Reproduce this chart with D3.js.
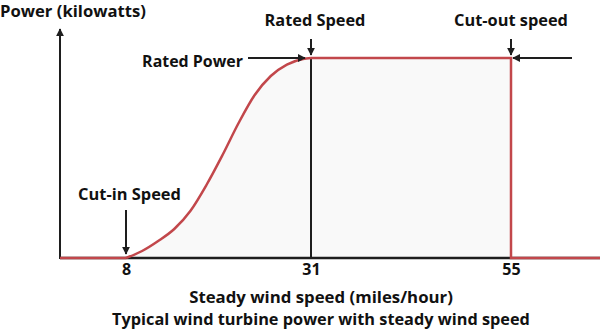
<!DOCTYPE html>
<html><head><meta charset="utf-8">
<script src="https://cdn.jsdelivr.net/npm/d3@7"></script>
<style>body{margin:0;background:#fff}svg{display:block}text{font-family:"Open Sans",sans-serif;font-weight:bold;fill:#111}</style>
</head><body><svg id="c" width="600" height="330"></svg>
<script>
// data
const tickSpeeds = [8, 31, 55];
const tickLabels = ["8", "31", "55"];
const cutIn = 8, ratedSpeed = 31, cutOut = 55, maxSpeed = 66;
const curveSpeed = [8, 10, 12, 14, 16, 18, 20, 22, 24, 26, 28, 30, 31];
const curvePower = [0, 0.035, 0.085, 0.145, 0.235, 0.365, 0.515, 0.675, 0.815, 0.91, 0.967, 0.995, 1];
const flatSpeedLeft = [0, 8];
const flatSpeedRight = [55, 66];
const ratedPower = 1;
const title = "Typical wind turbine power with steady wind speed";
const xTitle = "Steady wind speed (miles/hour)";
const yTitle = "Power (kilowatts)";

const svg = d3.select("#c");
const x = d3.scaleLinear().domain([0, 8, 31, 55, 66]).range([60, 126, 311, 511, 600]);
const y = d3.scaleLinear().domain([0, 1]).range([258, 58]);
const red = "#c2474b", dark = "#1e1e1e";

const defs = svg.append("defs");
defs.append("marker").attr("id","ah").attr("viewBox","0 0 10 10").attr("refX",9).attr("refY",5)
  .attr("markerWidth",8).attr("markerHeight",8).attr("orient","auto-start-reverse").attr("markerUnits","userSpaceOnUse")
  .append("path").attr("d","M0,0L10,5L0,10z").attr("fill",dark);

const curvePts = curveSpeed.map((s,i)=>[s, curvePower[i]]);

// fill
const area = d3.area().x(d=>x(d[0])).y0(y(0)).y1(d=>y(d[1])).curve(d3.curveMonotoneX);
svg.append("path").attr("d", area(curvePts.concat([[cutOut, ratedPower]]))).attr("fill","#f9f9f9");

// x axis
const xAxis = d3.axisBottom(x).tickValues(tickSpeeds).tickFormat((d,i)=>tickLabels[i]).tickSize(0).tickPadding(5);
const gx = svg.append("g").attr("transform",`translate(0,${y(0)})`).call(xAxis);
gx.select(".domain").attr("stroke",dark).attr("stroke-width",2.5).attr("d",`M${x(0)},0H${x(maxSpeed)}`);
gx.selectAll(".tick text").attr("font-size",16).attr("dy","0.75em")
  .style("font-family","'Open Sans'").style("font-weight","bold").attr("fill","#111");

// y axis
svg.append("line").attr("x1",x(0)).attr("x2",x(0)).attr("y1",y(0)+1).attr("y2",29)
  .attr("stroke",dark).attr("stroke-width",2).attr("marker-end","url(#ah)");

// rated speed vertical line
svg.append("line").attr("x1",x(ratedSpeed)).attr("x2",x(ratedSpeed)).attr("y1",y(ratedPower)).attr("y2",y(0))
  .attr("stroke",dark).attr("stroke-width",2);

// red power curve
const line = d3.line().x(d=>x(d[0])).y(d=>y(d[1]));
const redG = svg.append("g").attr("fill","none").attr("stroke",red).attr("stroke-width",2.5);
redG.append("path").attr("d", line(flatSpeedLeft.map(s=>[s,0])));
redG.append("path").attr("d", d3.line().x(d=>x(d[0])).y(d=>y(d[1])).curve(d3.curveMonotoneX)(curvePts));
redG.append("path").attr("d", line([[ratedSpeed,ratedPower],[cutOut,ratedPower],[cutOut,0],[flatSpeedRight[1],0]]));

// annotation arrows
function arrow(x1,y1,x2,y2){
  svg.append("line").attr("x1",x1).attr("y1",y1).attr("x2",x2).attr("y2",y2)
    .attr("stroke",dark).attr("stroke-width",2).attr("marker-end","url(#ah)");
}
arrow(x(ratedSpeed), 39, x(ratedSpeed), y(ratedPower)-3);
arrow(x(cutOut), 39, x(cutOut), y(ratedPower)-3);
arrow(572, y(ratedPower), x(cutOut)+2, y(ratedPower));
arrow(248, y(ratedPower), x(ratedSpeed)-6, y(ratedPower));
arrow(x(cutIn), 210, x(cutIn), y(0)-4);

// texts, sized to a target width
function txt(t, tx, ty, anchor, w){
  const el = svg.append("text").attr("x",tx).attr("y",ty).attr("text-anchor",anchor).attr("font-size",17).text(t);
  const len = el.node().getComputedTextLength();
  el.attr("font-size", Math.min(19, 17*w/len));
}
txt(yTitle, 0, 17, "start", 146);
txt("Rated Speed", 315, 26, "middle", 101);
txt("Cut-out speed", 511, 26, "middle", 114);
txt("Rated Power", 243, 67, "end", 101);
txt("Cut-in Speed", 129.5, 200, "middle", 103);
txt(xTitle, 321, 303, "middle", 264);
txt(title, 321, 325, "middle", 418);
</script></body></html>
